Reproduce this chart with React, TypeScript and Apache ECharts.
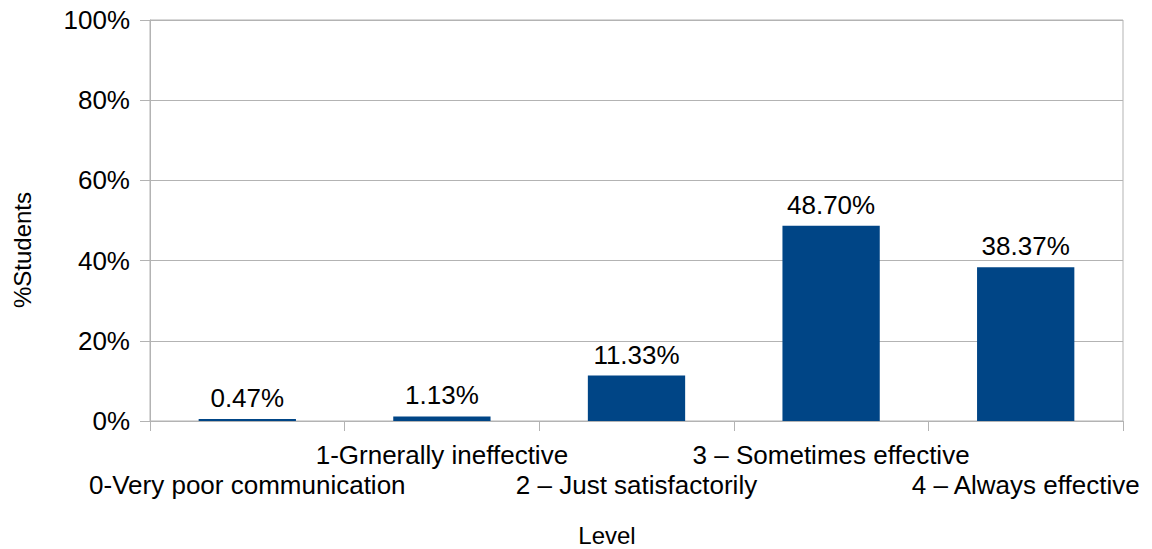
import React, { useEffect, useRef } from "react";
import * as echarts from "echarts";

const categories = [
  "0-Very poor communication",
  "1-Grnerally ineffective",
  "2 – Just satisfactorily",
  "3 – Sometimes effective",
  "4 – Always effective",
];
const values = [0.47, 1.13, 11.33, 48.7, 38.37];
const yTicks = [0, 20, 40, 60, 80, 100];

export default function App() {
  const ref = useRef<HTMLDivElement>(null);
  useEffect(() => {
    document.body.style.margin = "0";
    if (!ref.current) return;
    const chart = echarts.init(ref.current, null, { renderer: "svg" });
    const makeLabel = (odd: boolean, margin: number) => ({
      interval: 0,
      margin,
      fontSize: 26,
      color: "#000",
      formatter: (v: string, i: number) => ((i % 2 === 1) === odd ? v : ""),
    });
    chart.setOption({
      animation: false,
      textStyle: { fontFamily: "Liberation Sans" },
      grid: {
        left: 150,
        right: 29,
        top: 20,
        bottom: 128,
        show: true,
        borderColor: "#b3b3b3",
        borderWidth: 1,
      },
      xAxis: [
        {
          type: "category",
          data: categories,
          axisLine: { lineStyle: { color: "#b3b3b3" } },
          axisTick: { show: true, length: 10, lineStyle: { color: "#b3b3b3" } },
          axisLabel: makeLabel(true, 21),
          splitLine: { show: false },
        },
        {
          type: "category",
          data: categories,
          position: "bottom",
          axisLine: { show: false },
          axisTick: { show: false },
          axisLabel: makeLabel(false, 51),
          splitLine: { show: false },
        },
      ],
      yAxis: {
        type: "value",
        min: yTicks[0],
        max: yTicks[yTicks.length - 1],
        interval: 20,
        axisLine: { show: true, lineStyle: { color: "#b3b3b3" } },
        axisTick: { show: true, length: 10, lineStyle: { color: "#b3b3b3" } },
        axisLabel: {
          margin: 20,
          fontSize: 26,
          color: "#000",
          formatter: "{value}%",
        },
        splitLine: { show: true, lineStyle: { color: "#b3b3b3" } },
      },
      series: [
        {
          type: "bar",
          data: values,
          xAxisIndex: 0,
          barWidth: "50%",
          itemStyle: { color: "#004586" },
          label: {
            show: true,
            position: "top",
            distance: 8,
            fontSize: 26,
            color: "#000",
            formatter: (p: any) => p.value.toFixed(2) + "%",
          },
        },
      ],
      graphic: [
        {
          type: "text",
          x: 22,
          y: 250,
          rotation: Math.PI / 2,
          style: {
            text: "%Students",
            fontSize: 24,
            fill: "#000",
            fontFamily: "Liberation Sans",
            align: "center",
            verticalAlign: "middle",
          },
        },
        {
          type: "text",
          x: 607,
          y: 535,
          style: {
            text: "Level",
            fontSize: 24,
            fill: "#000",
            fontFamily: "Liberation Sans",
            align: "center",
            verticalAlign: "middle",
          },
        },
      ],
    });
    return () => chart.dispose();
  }, []);
  return <div ref={ref} style={{ width: 1152, height: 549 }} />;
}
